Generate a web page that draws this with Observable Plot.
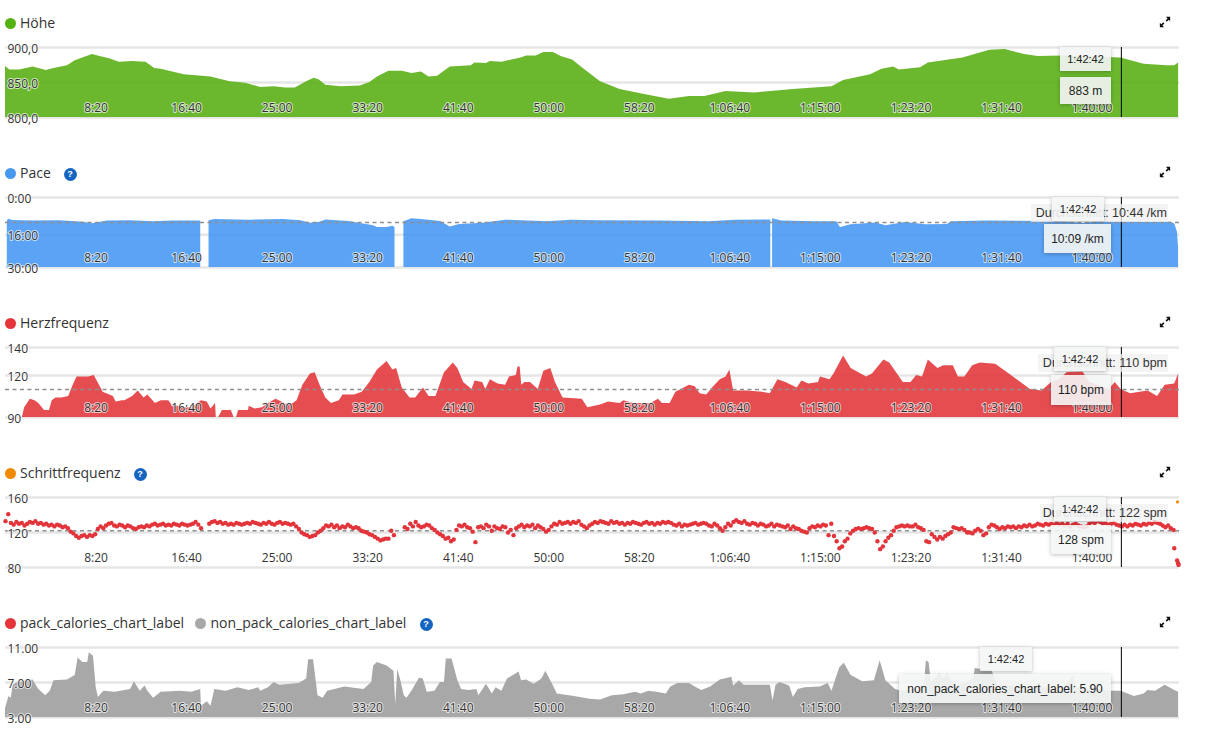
<!DOCTYPE html>
<html><head><meta charset="utf-8">
<script src="https://cdn.jsdelivr.net/npm/d3@7"></script>
<script src="https://cdn.jsdelivr.net/npm/@observablehq/plot@0.6"></script>
<style>
html,body{margin:0;padding:0;background:#fff;overflow:hidden}
#page{position:relative;width:1205px;height:734px;font-family:"Open Sans",sans-serif}
#page svg.p{position:absolute;left:0}
.leg{position:absolute;font-size:14px;color:#333;line-height:20px;white-space:nowrap}
.dot{position:absolute;width:11px;height:11px;border-radius:50%}
.help{position:absolute;width:13px;height:13px;border-radius:50%;background:#1565c0;color:#fff;font:bold 9px/13px "Liberation Sans",sans-serif;text-align:center}
.tip{position:absolute;box-sizing:border-box;background:rgba(244,245,245,.9);box-shadow:0 1px 4px rgba(0,0,0,.25);font:12px "Liberation Sans",sans-serif;color:#222;display:flex;align-items:center;justify-content:center;white-space:nowrap}
.avg{position:absolute;background:rgba(240,240,240,.75);font:12.5px/18px "Liberation Sans",sans-serif;color:#333;text-align:right;white-space:nowrap;padding-right:1px;box-sizing:border-box}
.exp{position:absolute;left:1159px;width:12px;height:12px}
.exp svg{display:block}
</style></head><body><div id="page"></div>
<script>
// x axis
const timeTicks=[500,1000,1500,2000,2500,3000,3500,4000,4500,5000,5500,6000];
const timeLabels=["8:20","16:40","25:00","33:20","41:40","50:00","58:20","1:06:40","1:15:00","1:23:20","1:31:40","1:40:00"];
const cursorTime=6162;
const timeMax=6483;

// Höhe
const altT=[0,25,78,152,226,268,342,385,480,522,575,628,702,776,824,860,987,1135,1240,1325,1410,1484,1547,1600,1663,1705,1731,1769,1853,1959,2012,2054,2117,2191,2244,2297,2339,2386,2456,2572,2593,2656,2678,2741,2847,2878,2931,2973,3026,3068,3132,3185,3286,3394,3543,3666,3777,3862,3979,4138,4351,4564,4628,4777,4840,4904,4936,5053,5096,5287,5436,5521,5628,5702,5840,6160,6287,6415,6457,6478];
const altV=[873,868,868,872,867,870,874,881,890,887,884,879,880,879,870,869,861,858,851,849,843,844,842,842,851,856,854,846,844,845,850,858,866,866,863,865,858,859,872,874,878,877,880,879,885,888,888,893,893,887,882,871,851,840,832,826,830,830,837,835,840,844,853,861,869,872,868,871,878,885,896,897,890,887,888,885,876,874,874,878];

// Pace (minutes per km)
const paceT=[10,20,40,150,300,430,480,564,691,818,923,1078,1100,1124,1156,1346,1536,1631,1684,1737,1769,1896,2033,2054,2107,2139,2151,2175,2200,2244,2297,2403,2456,2508,2635,2762,2994,3121,3287,3606,3883,4032,4223,4226,4230,4236,4287,4479,4590,4611,4670,4808,4862,4968,5085,5202,5223,5415,5840,5947,6053,6436,6457,6472,6478];
const paceV=[10,9.3,9.9,10.1,10,10.6,11.3,10.1,10,10.4,10.1,10.1,null,10,9.4,9.7,9.4,10,11,10.6,9.6,10.3,12.1,12.9,12.9,12.3,12.9,null,10.4,9.1,9.4,10.3,12.6,11.6,11,9.7,10.4,9.7,10,10.1,10.4,9.7,9.6,9.6,null,9.1,10.1,10.4,10.4,12.9,11.7,10.9,12.1,10.7,11.7,11.6,10.4,10.1,10.3,11.1,10.4,10.6,11.4,15,21.7];

// Herzfrequenz
const hrT=[93,106,137,163,184,216,243,258,279,311,349,374,395,427,459,490,511,539,596,611,645,659,702,733,765,786,828,860,902,923,955,987,1029,1082,1114,1135,1160,1164,1177,1198,1247,1262,1276,1287,1342,1346,1378,1420,1452,1494,1526,1557,1589,1610,1642,1684,1710,1737,1769,1800,1843,1864,1927,1970,2012,2054,2107,2139,2160,2191,2234,2265,2308,2339,2377,2424,2473,2498,2530,2576,2593,2635,2652,2678,2720,2762,2783,2821,2830,2842,2851,2868,2899,2942,2973,3011,3037,3079,3185,3216,3286,3330,3394,3415,3468,3564,3606,3628,3670,3702,3777,3809,3836,3872,3904,3947,3979,4000,4021,4096,4181,4223,4266,4309,4372,4398,4436,4490,4500,4553,4575,4628,4670,4755,4787,4851,4883,4958,5000,5032,5064,5096,5149,5181,5234,5262,5298,5341,5383,5468,5543,5660,5724,5777,5819,5862,5947,5989,6032,6096,6128,6160,6213,6309,6362,6404,6457,6478];
const hrV=[90,97,103,102,100,95,95,102,104,104,105,113,119,119,119,120,115,108,105,101,102,102,105,109,104,106,100,102,102,98,98,97,97,102,101,96,100,90,90,95,95,90,90,95,95,98,96,97,100,103,101,99,100,102,113,121,122,113,104,100,102,106,106,108,115,124,130,124,125,111,104,104,111,105,105,122,129,125,115,110,116,115,110,117,114,113,119,120,126,126,113,115,115,110,123,125,115,104,103,97,99,101,100,102,100,100,103,100,100,108,113,112,107,106,111,117,119,124,109,109,108,107,117,115,111,116,114,115,119,117,121,134,125,119,121,131,129,115,115,120,119,131,125,127,127,119,119,127,129,128,121,110,109,115,117,122,123,115,113,110,115,110,107,109,105,113,114,121];

// Schrittfrequenz: four runs of dots, one every 15 seconds
const cadStep=15;
const cadStartA=0;
const cadA=[133,141,131,129,132,130,131,128,130,132,131,133,130,131,129,130,128,129,127,129,128,126,127,125,121,119,116,114,116,117,115,117,116,118,124,127,125,128,130,131,128,127,129,128,126,128,127,125,124,126,127,126,128,127,129,130,128,129,130,128,129,128,130,129,128,130,129,128,129,130,132,129,125];
const cadStartB=1125;
const cadB=[130,132,133,131,132,130,131,129,130,129,131,130,129,130,131,130,132,131,130,129,131,130,132,130,129,131,132,130,131,130,129,130,127,124,120,118,117,115,116,117,120,122,125,128,127,129,126,128,125,127,126,129,127,125,126,125,122,121,120,118,117,115,113,111,112,113,113,122,117];
const cadStartC=2205;
const cadC=[126,124,130,127,132,128,126,127,129,128,125,123,120,118,116,113,114,110,112,123,128,127,129,126,125,121,109,126,127,125,129,127,122,127,125,124,127,126,120,123,117,125,127,129,126,128,127,129,125,128,126,124,121,123,127,130,129,132,130,131,132,130,132,131,133,129,127,125,128,130,132,131,133,132];
const cadStartD=3300;
const cadD=[132,131,130,133,131,132,130,131,129,131,130,132,131,130,129,131,132,130,131,129,131,130,132,131,132,131,129,128,130,127,129,128,129,130,131,129,130,131,130,128,127,130,128,125,122,126,130,128,132,134,132,131,133,130,129,131,130,128,130,129,127,128,130,127,129,128,127,126,128,124,127,125,124,122,121,120,125,127,126,128,127,129,128,117,130,116,110,102,104,110,113,119,122,124,125,124,125,126,125,124,120,110,101,104,110,114,117,122,126,127,128,127,128,127,127,129,126,125,123,110,109,118,115,112,115,113,116,118,120,126,125,124,125,123,120,120,119,122,124,122,117,119,126,129,128,126,124,126,125,127,126,127,125,127,126,128,127,129,127,128,130,129,128,130,129,130,129,131,129,130,128,130,127,129,130,128,127,126,127,130,132,131,133,132,130,131,129,130,131,129,128,127,129,127,129,128,130,129,128,130,129,131,130,132,131,130,128,126,128,125,123];
const cadTailT=[6454,6470,6475,6478];
const cadTailV=[102,88,85,83];
const cadStrayT=[6472];
const cadStrayV=[155];

// Calories
const calT=[0,19,32,42,68,152,184,222,247,268,342,385,401,427,454,463,486,501,513,543,606,691,712,744,771,786,818,860,966,1029,1078,1082,1114,1135,1156,1219,1283,1346,1399,1409,1452,1483,1515,1621,1663,1674,1701,1726,1754,1779,1874,1980,2022,2033,2054,2107,2145,2155,2166,2181,2202,2217,2244,2286,2307,2329,2371,2402,2424,2434,2466,2498,2519,2561,2603,2614,2656,2688,2709,2741,2772,2836,2850,2878,2920,2962,2984,3026,3047,3142,3227,3286,3351,3415,3479,3511,3553,3596,3649,3674,3713,3777,3809,3845,3894,3947,3989,4011,4021,4053,4079,4138,4224,4238,4255,4277,4330,4351,4377,4415,4500,4543,4564,4581,4607,4632,4670,4734,4798,4830,4862,4915,4947,5032,5075,5085,5100,5113,5160,5181,5202,5245,5309,5347,5355,5415,5447,5479,5585,5734,5841,5900,5915,6032,6096,6160,6234,6288,6309,6351,6404,6457,6478];
const calV=[4,5.4,5.2,6.7,7,7.3,6.2,5.5,6,7.2,7.3,7.8,9.8,9.3,9.3,10.4,10,6.4,5.3,6,5.9,6.2,7.1,6,6.6,6,5.2,5.9,6,5.9,6.2,4.3,4.8,4.3,6.2,6,6.4,6.1,6.4,6,6.4,7,6.7,6.9,7.4,9.6,9.6,5.5,5.2,6,6.5,6.2,7,8.9,9.3,8.9,8.3,4.5,8.5,7.4,5.5,5.2,6,7.5,7.4,5.9,6,7,7,9.7,9.7,7.2,6.2,6.1,6.2,5.5,6.8,5.7,6.4,6,7.4,8.2,7.2,7.3,6.8,7.4,8.3,6.6,5.7,5.4,5.1,5,5.5,5.6,5.9,5.7,6,5.9,5.7,6.5,6.9,6.9,6.5,6.1,6.5,7.3,7.5,7.6,6.6,7.2,6.7,6.7,6.7,4.9,6.7,7,6.6,5.3,6.2,6.4,6.5,6.9,6,7.1,8.7,9.2,7.8,7.1,7.2,9.5,7.2,6.2,6,6.2,6.8,9.5,9.3,7,8,7.4,8,6.6,7,7.4,8.6,8.4,8.4,6.6,6.6,6.4,6.2,7.8,6.4,6.2,6,6,5.4,5.7,6.1,6,6.7,6.1,5.9];

// y axes
const altTicks=[800,850,900], paceTicks=[0,16,30], hrTicks=[90,120,140], cadTicks=[80,120,160], calTicks=[3,7,11];
const paceAvg=10.73, hrAvg=110, cadAvg=122;

const zip=(t,v)=>t.map((x,i)=>({t:x,v:v[i]}));
const cadRuns=[[cadStartA,cadA],[cadStartB,cadB],[cadStartC,cadC],[cadStartD,cadD]]
  .flatMap(([s,a])=>a.map((v,i)=>({t:s+i*cadStep,v})));
const cadDots=cadRuns.concat(zip(cadTailT,cadTailV));

const GRID="#e6e6e6";
function panel(top,domain,ticks,fmt,reverse,body){
  const p=Plot.plot({
    width:1205,height:100,marginLeft:5,marginRight:26,marginTop:10,marginBottom:20,
    style:{fontFamily:'"Open Sans",sans-serif',fontSize:"12px",color:"#333",background:"transparent",overflow:"visible"},
    x:{domain:[0,timeMax],axis:null},
    y:{domain,reverse,axis:null},
    marks:[
      Plot.ruleY(ticks,{stroke:GRID,strokeWidth:2.5}),
      ...body,
      Plot.axisX(timeTicks,{anchor:"bottom",tickSize:0,tickPadding:0,dy:-14,tickFormat:d=>timeLabels[timeTicks.indexOf(d)],fill:"#333",textStroke:"white",textStrokeWidth:2,textStrokeOpacity:0.7,label:null}),
      Plot.axisY(ticks,{anchor:"left",tickSize:0,tickPadding:0,textAnchor:"start",dx:2,dy:1.5,tickFormat:fmt,fill:"#333",textStroke:"white",textStrokeWidth:2,textStrokeOpacity:0.7,label:null}),
      Plot.ruleX([cursorTime],{stroke:"black",strokeWidth:1})
    ]
  });
  p.classList.add("p");
  p.style.top=(top-10)+"px";
  document.getElementById("page").appendChild(p);
}
const area=(data,b,fill,op)=>Plot.areaY(data,{x:"t",y1:()=>b,y2:"v",fill,fillOpacity:op,curve:"linear"});
const avgRule=v=>Plot.ruleY([v],{stroke:"#8f8f8f",strokeWidth:1.6,strokeDasharray:"4,3.5"});

panel(47,[800,900],altTicks,d=>d.toFixed(1).replace(".",","),false,[area(zip(altT,altV),800,"#56ae12",0.88)]);
panel(197,[0,30],paceTicks,d=>d+":00",true,[area(zip(paceT,paceV),30,"#4496f3",0.88),avgRule(paceAvg)]);
panel(347,[90,140],hrTicks,d=>String(d),false,[area(zip(hrT,hrV),90,"#e23034",0.86),avgRule(hrAvg)]);
panel(497,[80,160],cadTicks,d=>String(d),false,[
  avgRule(cadAvg),
  Plot.dot(cadDots,{x:"t",y:"v",r:2.2,fill:"#e2343a",stroke:"none"}),
  Plot.dot(zip(cadStrayT,cadStrayV),{x:"t",y:"v",r:1.6,fill:"#f08a10",stroke:"none"})
]);
panel(647,[3,11],calTicks,d=>d.toFixed(2),false,[area(zip(calT,calV),3,"#a8a8a8",1)]);

// HTML overlays: legends, tooltips, icons
const page=document.getElementById("page");
const add=(cls,css,txt)=>{const e=document.createElement("div");e.className=cls;e.style.cssText=css;if(txt!=null)e.textContent=txt;page.appendChild(e);return e;};
const legends=[
  [23,[[10,"#55b012","Höhe"]],null],
  [173,[[10,"#4799f0","Pace"]],70],
  [323,[[10,"#e5353a","Herzfrequenz"]],null],
  [473,[[10,"#f08a00","Schrittfrequenz"]],140],
  [623,[[10,"#e5353a","pack_calories_chart_label"],[200.5,"#a8a8a8","non_pack_calories_chart_label"]],426]
];
for(const [y,items,help] of legends){
  for(const [cx,col,label] of items){
    add("dot",`left:${cx-5.5}px;top:${y-5.5}px;background:${col}`);
    add("leg",`left:${cx+10}px;top:${y-10}px`,label);
  }
  if(help) add("help",`left:${help-6.5}px;top:${y-5.5}px`,"?");
  const ex=add("exp",`top:${y-7}px`);
  ex.innerHTML='<svg width="12" height="12" viewBox="0 0 14 14"><path d="M8 1h5v5l-1.7-1.7-2.3 2.3-1.3-1.3 2.3-2.3zM6 13H1V8l1.7 1.7 2.3-2.3 1.3 1.3-2.3 2.3z" fill="#111"/></svg>';
}
const avgs=[[204,1031,"Durchschnitt: 10:44 /km"],[354,1038,"Durchschnitt: 110 bpm"],[504,1040,"Durchschnitt: 122 spm"]];
for(const [y,x,t] of avgs) add("avg",`left:${x}px;top:${y}px;width:${1168-x}px;height:18px`,t);
const tips=[
  [1060,47,51,24,"1:42:42",11],[1060,77,51,27,"883 m",12],
  [1052,197,52,24,"1:42:42",11],[1044,224,67,29,"10:09 /km",12],
  [1054,347,52,24,"1:42:42",11],[1051,375,60,30,"110 bpm",12],
  [1054,497,52,24,"1:42:42",11],[1051,525,60,29,"128 spm",12],
  [980,647,52,24,"1:42:42",11],[899,674,212,29,"non_pack_calories_chart_label: 5.90",12]
];
for(const [x,y,w,h,t,fs] of tips) add("tip",`left:${x}px;top:${y}px;width:${w}px;height:${h}px;font-size:${fs}px`,t);
</script></body></html>
